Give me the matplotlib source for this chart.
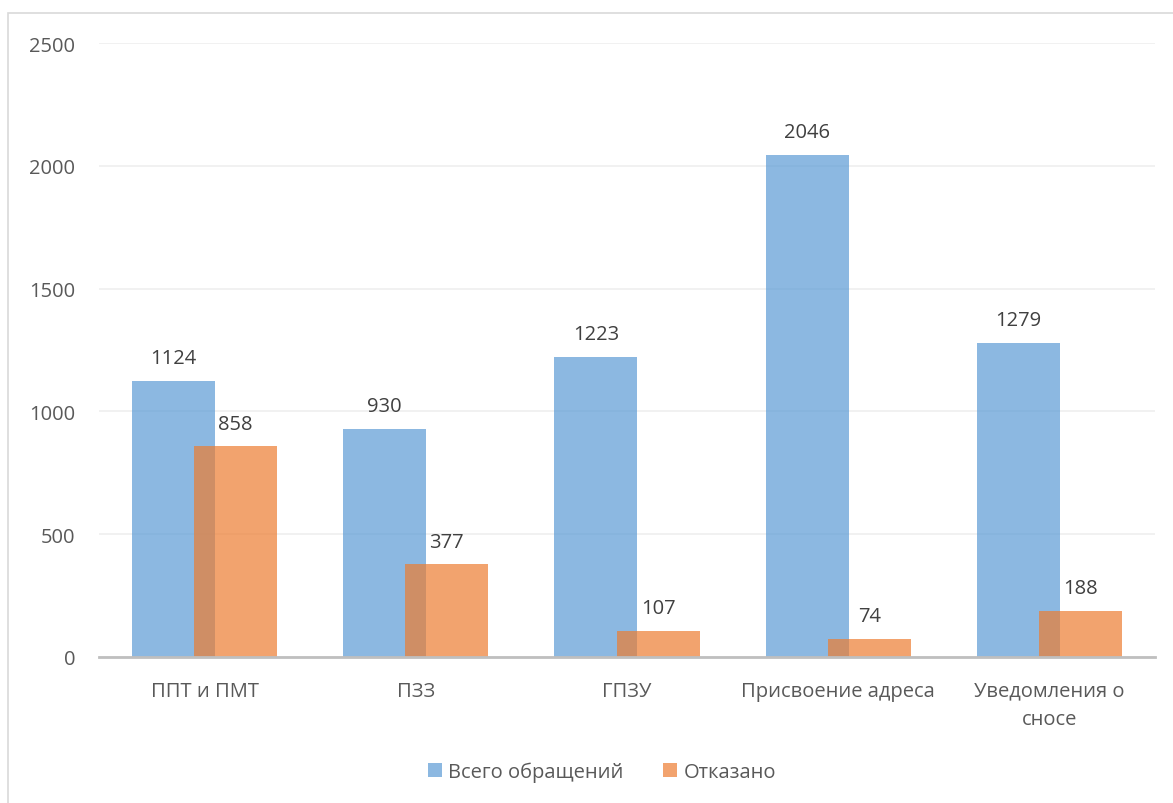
import matplotlib.pyplot as plt
import numpy as np
from matplotlib.patches import Rectangle

plt.rcParams['font.family'] = ['Open Sans', 'DejaVu Sans']

# Data
categories = ['ППТ и ПМТ', 'ПЗЗ', 'ГПЗУ', 'Присвоение адреса', 'Уведомления о\nсносе']
total_requests = [1124, 930, 1223, 2046, 1279]
refused = [858, 377, 107, 74, 188]
series_names = ['Всего обращений', 'Отказано']
y_ticks = [0, 500, 1000, 1500, 2000, 2500]

blue = '#5B9BD5'
orange = '#ED7D31'
text_gray = '#595959'
fs = 14.5

fig = plt.figure(figsize=(11.73, 8.04), dpi=100)
ax = fig.add_axes([99 / 1173, 1 - 658 / 804, 1056 / 1173, 614 / 804])

# Outer chart frame (only top/left visible in the reference)
fig.patches.append(Rectangle((8 / 1173, -0.1), 1.2, (804 - 14) / 804 + 0.1,
                             transform=fig.transFigure, fill=False,
                             edgecolor='#D9D9D9', linewidth=1.2))

x = np.arange(len(categories))
width = 0.393
offset = 0.147

bars1 = ax.bar(x - offset, total_requests, width, color=blue, alpha=0.7,
               label=series_names[0], zorder=2)
bars2 = ax.bar(x + offset, refused, width, color=orange, alpha=0.7,
               label=series_names[1], zorder=3)

# Data labels
for bars in (bars1, bars2):
    for b in bars:
        ax.annotate(str(int(b.get_height())),
                    (b.get_x() + b.get_width() / 2, b.get_height()),
                    xytext=(0, 9), textcoords='offset points',
                    ha='center', va='bottom', fontsize=fs, color='#404040')

ax.set_xlim(-0.5, len(categories) - 0.5)
ax.set_ylim(0, 2500)
ax.set_yticks(y_ticks)
ax.set_yticklabels([str(t) for t in y_ticks])
ax.set_xticks(x)
ax.set_xticklabels(categories, linespacing=1.55)

ax.grid(axis='y', color='#EFEFEF', linewidth=1.2, zorder=0)
ax.set_axisbelow(True)

for side in ('top', 'right', 'left'):
    ax.spines[side].set_visible(False)
ax.spines['bottom'].set_color('#BFBFBF')
ax.spines['bottom'].set_linewidth(2)
ax.spines['bottom'].set_zorder(4)

ax.tick_params(axis='both', length=0, labelsize=fs, labelcolor=text_gray)
ax.tick_params(axis='y', pad=17)
ax.tick_params(axis='x', pad=17)

fig.legend(handles=[bars1, bars2], labels=series_names, loc='center',
           bbox_to_anchor=(0.513, 1 - 773 / 804), ncol=2, frameon=False,
           fontsize=fs, handlelength=0.7, handleheight=0.7, handletextpad=0.3,
           columnspacing=2.0, labelcolor=text_gray)

fig.savefig('out.png', dpi=100)
